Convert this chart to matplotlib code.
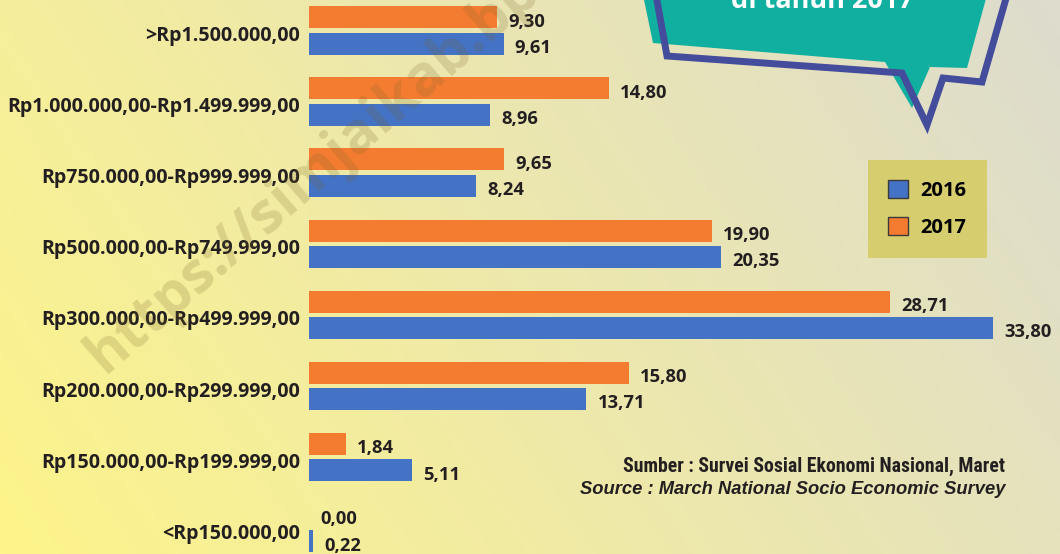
"""Distribusi pengeluaran per kapita, 2016 vs 2017."""
import numpy as np
import matplotlib
matplotlib.use('Agg')
import matplotlib.pyplot as plt
import matplotlib.transforms as mtransforms
from matplotlib.patches import Patch, Polygon

W, H = 1060, 554
PX = 20.24   # pixels per percent point
ROW = 71.1   # pixels between category rows
X0 = 309     # pixel where bars start

categories = [
    '>Rp1.500.000,00',
    'Rp1.000.000,00-Rp1.499.999,00',
    'Rp750.000,00-Rp999.999,00',
    'Rp500.000,00-Rp749.999,00',
    'Rp300.000,00-Rp499.999,00',
    'Rp200.000,00-Rp299.999,00',
    'Rp150.000,00-Rp199.999,00',
    '<Rp150.000,00',
]
v2016 = [9.61, 8.96, 8.24, 20.35, 33.80, 13.71, 5.11, 0.22]
v2017 = [9.30, 14.80, 9.65, 19.90, 28.71, 15.80, 1.84, 0.00]
series_names = ['2016', '2017']

BLUE = '#4472C4'
ORANGE = '#F47C30'
TXT = '#231F20'


def fx(px):
    return px / W


def fy(py):
    return 1 - py / H


def fmt(v):
    return f'{v:.2f}'.replace('.', ',')


def main():
    fig = plt.figure(figsize=(W / 100, H / 100), dpi=100)

    # background gradient: yellow bottom-left to grey top-right
    bg = fig.add_axes([0, 0, 1, 1])
    u = np.linspace(0, 1, 300)[None, :]
    vb = np.linspace(1, 0, 160)[:, None]
    t = (u + 0.35 * vb) / 1.35
    c0 = np.array([253, 244, 138]) / 255
    c1 = np.array([221, 220, 206]) / 255
    bg.imshow(c0 + (c1 - c0) * t[..., None], aspect='auto', extent=(0, 1, 0, 1))
    bg.axis('off')

    ax = fig.add_axes([X0 / W, 0, 1 - X0 / W, 1])
    ax.set_facecolor('none')
    y = np.arange(len(categories))
    off, h = 0.186, 0.31
    ax.barh(y - off, v2017, height=h, color=ORANGE)
    ax.barh(y + off, v2016, height=h, color=BLUE)
    ax.set_xlim(0, (W - X0) / PX)
    ax.set_ylim((H - 30.5) / ROW, -30.5 / ROW)

    lab = dict(va='center', ha='left', fontsize=13.2, fontweight='bold',
               family='Open Sans', color=TXT)
    for i, v in enumerate(v2017):
        ax.text(v + 0.55, i - off + 0.06, fmt(v), **lab)
    for i, v in enumerate(v2016):
        ax.text(v + 0.55, i + off + 0.06, fmt(v), **lab)

    ax.set_yticks(y, categories)
    ax.tick_params(axis='y', length=0, pad=6.5, labelsize=14.1, labelcolor=TXT)
    shift = mtransforms.ScaledTranslation(0, -3 / 100, fig.dpi_scale_trans)
    for t_ in ax.get_yticklabels():
        t_.set_fontweight('bold')
        t_.set_family('Open Sans')
        t_.set_transform(t_.get_transform() + shift)
    ax.set_xticks([])
    for s in ax.spines.values():
        s.set_visible(False)

    handles = [Patch(facecolor=BLUE, edgecolor='#3a3a3a', lw=1),
               Patch(facecolor=ORANGE, edgecolor='#3a3a3a', lw=1)]
    fig.legend(handles, series_names, loc='upper left',
               bbox_to_anchor=(fx(868), fy(160)), borderaxespad=0,
               fancybox=False, facecolor='#D6CD6F', edgecolor='none',
               framealpha=1,
               prop={'family': 'Open Sans', 'weight': 'bold', 'size': 14.5},
               handlelength=1.0, handleheight=1.0, handletextpad=0.6,
               labelspacing=0.8, borderpad=1.0)

    # callout box, top right
    teal = [(643, -5), (653, 43), (885, 62), (912, 108), (930, 67),
            (967, 68), (987, -5)]
    fig.add_artist(Polygon([(fx(a), fy(b)) for a, b in teal], closed=True,
                           facecolor='#10AFA0', edgecolor='none',
                           transform=fig.transFigure))
    outline = [(656, -5), (667, 56), (902, 73), (927, 125), (943, 78),
               (982, 82), (1007, -5)]
    fig.add_artist(Polygon([(fx(a), fy(b)) for a, b in outline], closed=False,
                           fill=False, edgecolor='#444C9C', lw=5,
                           joinstyle='miter', transform=fig.transFigure))
    fig.text(fx(822), fy(8), 'di tahun 2017', ha='center', va='baseline',
             color='white', fontsize=19.5, fontweight='bold', family='Open Sans')

    fig.text(fx(104), fy(374), 'https://simjaikab.bps.go.id', rotation=41,
             rotation_mode='anchor', ha='left', va='baseline', fontsize=41,
             fontweight='bold', family='Open Sans', color=(0.47, 0.39, 0.16),
             alpha=0.2)

    fig.text(fx(1005), fy(466), 'Sumber : Survei Sosial Ekonomi Nasional, Maret',
             ha='right', va='center', fontsize=14.2, fontweight='bold', color=TXT,
             family=['Roboto Condensed', 'Liberation Sans'])
    fig.text(fx(1005), fy(489), 'Source : March National Socio Economic Survey',
             ha='right', va='center', fontsize=13.2, fontweight='bold',
             style='italic', color=TXT, family='Liberation Sans')

    fig.savefig('out.png', dpi=100)


if __name__ == '__main__':
    main()
